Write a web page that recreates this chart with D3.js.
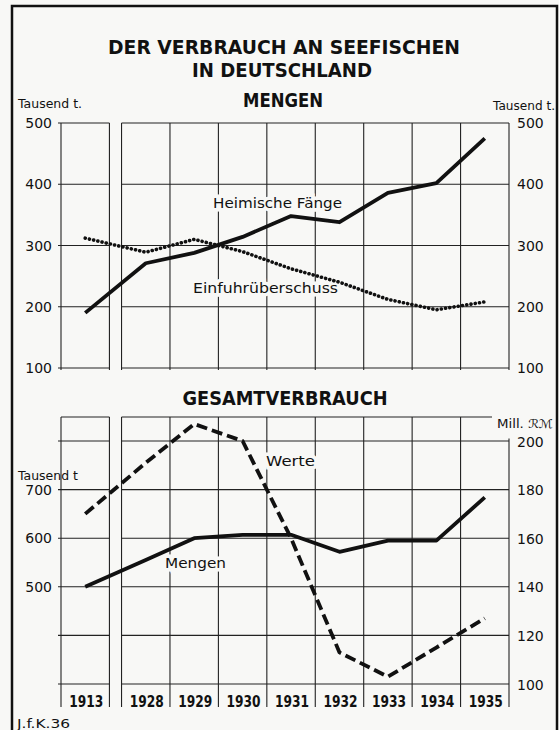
<!DOCTYPE html>
<html>
<head>
<meta charset="utf-8">
<script src="https://d3js.org/d3.v7.min.js"></script>
<style>
  body { margin: 0; background: #fff; }
  svg text { fill: #111; }
</style>
</head>
<body>
<script>
// Data
var years = ['1913', '1928', '1929', '1930', '1931', '1932', '1933', '1934', '1935'];
var heimischeFaenge = [190, 271, 288, 314, 348, 338, 386, 402, 475];       // Tausend t
var einfuhrUeberschuss = [312, 289, 310, 290, 262, 240, 212, 195, 208];   // Tausend t
var gesamtMengen = [500, 555, 600, 607, 607, 572, 595, 595, 684];         // Tausend t
var gesamtWerte = [170, 191, 207, 200, 160, 113, 103, 115, 127];          // Mill. RM
var topTicks = [100, 200, 300, 400, 500];
var leftTicks = [500, 600, 700];
var rightTicks = [100, 120, 140, 160, 180, 200];

var W = 559, H = 730;
var bg = '#f8f8f6';
var svg = d3.select('body').append('svg')
  .attr('width', W).attr('height', H)
  .style('background', bg);

var sans = "'DejaVu Sans', sans-serif";
var cond = "'DejaVu Sans Condensed', 'DejaVu Sans', sans-serif";

// frame
svg.append('path')
  .attr('d', 'M12,740 L12,6 L557,6 L557,740')
  .attr('fill', 'none').attr('stroke', '#111').attr('stroke-width', 2.5);

// x: 1913 column, a gap, then 1928..1935
var x = d3.scaleLinear().domain([0, 9.25]).range([61, 509]);
function colStart(i) { return i === 0 ? 0 : i + 0.25; }
function xc(i) { return x(colStart(i) + 0.5); }
var blocks = [[0, 1], [1.25, 9.25]];

// y scales
var yTop = d3.scaleLinear().domain([100, 500]).range([368, 123]);
var yLeft = d3.scaleLinear().domain([300, 800]).range([684, 441]);
var yRight = d3.scaleLinear().domain([100, 200]).range([684, 441]);

var grid = svg.append('g').attr('stroke', '#222').attr('stroke-width', 1.1).attr('fill', 'none');

// ---- top chart grid
blocks.forEach(function(b) {
  topTicks.forEach(function(t) {
    grid.append('line').attr('x1', x(b[0]) - (b[0] === 0 ? 3 : 0)).attr('x2', x(b[1]))
      .attr('y1', yTop(t)).attr('y2', yTop(t));
  });
  for (var v = b[0]; v <= b[1] + 0.01; v += 1) {
    grid.append('line').attr('x1', x(v)).attr('x2', x(v))
      .attr('y1', yTop(500)).attr('y2', yTop(100) + 2);
  }
});

// ---- bottom chart grid
var botTop = 417, botBottom = 707;
blocks.forEach(function(b) {
  rightTicks.forEach(function(t) {
    grid.append('line').attr('x1', x(b[0]) - (b[0] === 0 ? 3 : 0)).attr('x2', x(b[1]))
      .attr('y1', yRight(t)).attr('y2', yRight(t));
  });
  grid.append('line').attr('x1', x(b[0])).attr('x2', b[0] === 0 ? x(b[1]) : 492)
    .attr('y1', botTop).attr('y2', botTop);
  for (var v = b[0]; v <= b[1] + 0.01; v += 1) {
    grid.append('line').attr('x1', x(v)).attr('x2', x(v))
      .attr('y1', v > 9 ? yRight(201) : botTop).attr('y2', botBottom);
  }
});

// ---- titles
function title(txt, cx, y, size, len) {
  svg.append('text').attr('x', cx).attr('y', y)
    .attr('text-anchor', 'middle')
    .attr('font-family', cond).attr('font-weight', 'bold').attr('font-size', size)
    .attr('textLength', len).attr('lengthAdjust', 'spacingAndGlyphs')
    .text(txt);
}
title('DER VERBRAUCH AN SEEFISCHEN', 284, 54, 20, 352);
title('IN DEUTSCHLAND', 282, 77, 20, 180);
title('MENGEN', 283, 107, 19, 80);
title('GESAMTVERBRAUCH', 285, 405, 19, 205);

// ---- axis labels
function lab(txt, xx, y, anchor, size, len) {
  var t = svg.append('text').attr('x', xx).attr('y', y)
    .attr('text-anchor', anchor).attr('font-family', sans).attr('font-size', size)
    .text(txt);
  if (len) t.attr('textLength', len).attr('lengthAdjust', 'spacingAndGlyphs');
  return t;
}
lab('Tausend t.', 18, 108, 'start', 12.5, 64);
lab('Tausend t.', 493, 110, 'start', 12.5, 62);
lab('Tausend t', 18, 480, 'start', 12.5, 60);
lab('Mill. ℛℳ', 497, 428, 'start', 12, 56);

topTicks.forEach(function(t) {
  lab(String(t), 52, yTop(t) + 5, 'end', 14);
  lab(String(t), 517, yTop(t) + 5, 'start', 14);
});
leftTicks.forEach(function(t) {
  lab(String(t), 52, yLeft(t) + 5, 'end', 14);
});
rightTicks.forEach(function(t) {
  lab(String(t), 517, yRight(t) + 5.5, 'start', 14);
});

// year labels
years.forEach(function(yr, i) {
  svg.append('text').attr('x', xc(i) + 1).attr('y', 707)
    .attr('text-anchor', 'middle')
    .attr('font-family', cond).attr('font-weight', 'bold').attr('font-size', 16)
    .attr('textLength', 34).attr('lengthAdjust', 'spacingAndGlyphs')
    .text(yr);
});

// credit
lab('J.f.K.36', 17, 728, 'start', 13, 53).attr('font-family', cond);

// ---- series labels (with a halo that breaks the grid lines)
function seriesLabel(txt, xx, y, len) {
  svg.append('text').attr('x', xx).attr('y', y)
    .attr('font-family', sans).attr('font-size', 14)
    .attr('textLength', len).attr('lengthAdjust', 'spacingAndGlyphs')
    .attr('stroke', bg).attr('stroke-width', 7).attr('paint-order', 'stroke')
    .text(txt);
}
seriesLabel('Heimische Fänge', 213, 208, 129);
seriesLabel('Einfuhrüberschuss', 193, 293, 145);
seriesLabel('Werte', 266, 466, 49);
seriesLabel('Mengen', 165, 568, 61);

// ---- lines
function series(vals, yScale, dash, width, cap) {
  var line = d3.line().x(function(d, i) { return xc(i); }).y(function(d) { return yScale(d); });
  svg.append('path').datum(vals)
    .attr('d', line)
    .attr('fill', 'none').attr('stroke', '#111')
    .attr('stroke-width', width)
    .attr('stroke-linejoin', 'round')
    .attr('stroke-linecap', cap || 'butt')
    .attr('stroke-dasharray', dash);
}
series(einfuhrUeberschuss, yTop, '0.1 4.2', 3.6, 'round');
series(heimischeFaenge, yTop, null, 3.8);
series(gesamtMengen, yLeft, null, 3.8);
series(gesamtWerte, yRight, '11 5', 3.8);
</script>
</body>
</html>
